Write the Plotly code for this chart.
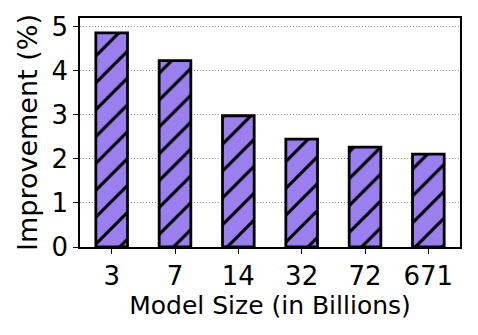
import plotly.graph_objects as go

model_sizes = ["3", "7", "14", "32", "72", "671"]
improvement = [4.86, 4.23, 2.98, 2.45, 2.27, 2.11]
y_ticks = [0, 1, 2, 3, 4, 5]

purple = "#9b7fee"
font = "DejaVu Sans"

fig = go.Figure(go.Bar(
    x=model_sizes,
    y=improvement,
    width=0.5,
    marker=dict(
        color=purple,
        line=dict(color="black", width=2.8),
        pattern=dict(shape="/", fgcolor="black", bgcolor=purple, fgopacity=1,
                     size=19, solidity=0.16, fillmode="overlay"),
    ),
))

fig.update_layout(
    width=478, height=335,
    margin=dict(l=80, r=18, t=18, b=88, autoexpand=False),
    plot_bgcolor="white", paper_bgcolor="white",
    font=dict(family=font, color="black"),
    showlegend=False,
)
fig.update_xaxes(
    type="category",
    range=[-0.5, 5.5],
    automargin=False,
    showline=True, linecolor="black", linewidth=1.5, mirror=True,
    ticks="outside", ticklen=5, tickwidth=1.2, tickcolor="black",
    tickfont=dict(size=26, family=font),
    title=dict(text="Model Size (in Billions)", font=dict(size=25, family=font), standoff=4),
    showgrid=False,
)
fig.update_yaxes(
    range=[0, 5.2],
    tickvals=y_ticks,
    automargin=False,
    showline=True, linecolor="black", linewidth=1.5, mirror=True,
    ticks="outside", ticklen=5, tickwidth=1.2, tickcolor="black",
    tickfont=dict(size=26, family=font),
    title=dict(text="Improvement (%)", font=dict(size=27, family=font), standoff=6),
    showgrid=True, gridcolor="#999999", gridwidth=1, griddash="1px,2px",
    zeroline=False,
)

fig.write_html("out.html", config={"displayModeBar": False},
               post_script="document.body.style.margin='0';document.body.style.padding='0';")
